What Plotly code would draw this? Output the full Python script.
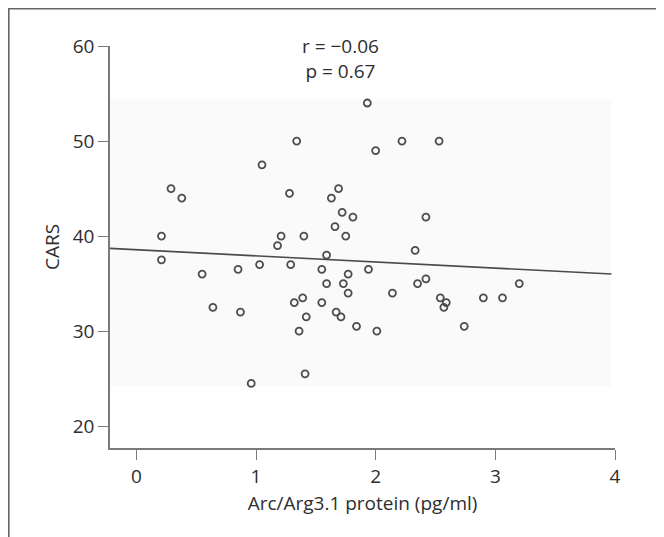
import plotly.graph_objects as go
import numpy as np

# Data
arc = [0.21, 0.21, 0.55, 0.85, 1.03, 0.64, 0.87, 0.96, 1.18, 1.21, 1.40, 1.29, 1.32, 1.39,
       1.36, 1.42, 1.41, 1.55, 1.59, 1.59, 1.55, 1.66, 1.75, 1.77, 1.73, 1.77, 1.67, 1.71,
       1.84, 1.81, 1.94,
       0.29, 0.38, 1.05, 1.34, 1.28, 1.69, 1.63, 1.72, 1.93,
       2.00, 2.22, 2.53, 2.42,
       2.33, 2.35, 2.42, 2.14, 2.54, 2.59, 2.57, 2.74, 2.90, 3.06, 3.20, 2.01]
cars = [40, 37.5, 36, 36.5, 37, 32.5, 32, 24.5, 39, 40, 40, 37, 33, 33.5,
        30, 31.5, 25.5, 36.5, 38, 35, 33, 41, 40, 36, 35, 34, 32, 31.5,
        30.5, 42, 36.5,
        45, 44, 47.5, 50, 44.5, 45, 44, 42.5, 54,
        49, 50, 50, 42,
        38.5, 35, 35.5, 34, 33.5, 33, 32.5, 30.5, 33.5, 33.5, 35, 30]

fit_intercept = 38.56
fit_slope = -0.644

x_ticks = [0, 1, 2, 3, 4]
y_ticks = [20, 30, 40, 50, 60]
x_range = [-0.22, 4]
y_range = [17.7, 60]
shade_x = [-0.22, 3.97]
shade_y = [24.2, 54.4]

stat_text = "r = \u22120.06<br>p = 0.67"

# the page adds an 8px body margin, so the figure is 8px smaller
W, H = 656, 529
ML, MR, MT, MB = 102, 48.5, 38, 89.4
pw = W - ML - MR
ph = H - MT - MB

FONT = "Open Sans"
FS = 19
TXT = "#2e2e2e"
AX = "#7a7a7a"

fig = go.Figure()

fit_x = np.array(shade_x)
fit_y = fit_intercept + fit_slope * fit_x
fig.add_trace(go.Scatter(x=fit_x, y=fit_y, mode="lines",
                         line=dict(color="#4a4a4a", width=1.6),
                         hoverinfo="skip", showlegend=False))
fig.add_trace(go.Scatter(x=arc, y=cars, mode="markers",
                         marker=dict(symbol="circle-open", size=7,
                                     color="#4d4d4d", line=dict(width=1.8)),
                         showlegend=False))

fig.add_shape(type="rect", xref="x", yref="y",
              x0=shade_x[0], x1=shade_x[1], y0=shade_y[0], y1=shade_y[1],
              fillcolor="#fafafa", line=dict(width=0), layer="below")

# outer frame (left and top)
def px_to_paper_x(px):
    return (px - ML) / pw

def px_to_paper_y(py):
    return (H - MB - py) / ph

fig.add_shape(type="line", xref="paper", yref="paper",
              x0=px_to_paper_x(0.5), x1=px_to_paper_x(0.5),
              y0=px_to_paper_y(0), y1=px_to_paper_y(540),
              line=dict(color="#666666", width=2))
fig.add_shape(type="line", xref="paper", yref="paper",
              x0=px_to_paper_x(0), x1=px_to_paper_x(670),
              y0=px_to_paper_y(0.5), y1=px_to_paper_y(0.5),
              line=dict(color="#666666", width=2))

fig.add_annotation(x=1.706, y=58.7, xref="x", yref="y", text=stat_text,
                   showarrow=False, font=dict(family=FONT, size=FS, color=TXT),
                   align="center")

fig.update_layout(
    width=W, height=H,
    margin=dict(l=ML, r=MR, t=MT, b=MB),
    paper_bgcolor="white", plot_bgcolor="white",
    font=dict(family=FONT, size=FS, color=TXT),
    showlegend=False,
)
fig.update_xaxes(range=x_range, tickvals=x_ticks, showgrid=False, zeroline=False,
                 showline=True, linecolor=AX, linewidth=1.6,
                 ticks="outside", ticklen=10, tickcolor=AX, tickwidth=1.4,
                 title=dict(text="Arc/Arg3.1 protein (pg/ml)", standoff=9,
                            font=dict(family=FONT, size=FS, color=TXT)),
                 tickfont=dict(family=FONT, size=FS, color=TXT))
fig.update_yaxes(range=y_range, tickvals=y_ticks, showgrid=False, zeroline=False,
                 showline=True, linecolor=AX, linewidth=1.6,
                 ticks="outside", ticklen=10, tickcolor=AX, tickwidth=1.4,
                 title=dict(text="CARS", standoff=8,
                            font=dict(family=FONT, size=FS, color=TXT)),
                 tickfont=dict(family=FONT, size=FS, color=TXT))

fig.write_html("out.html")
